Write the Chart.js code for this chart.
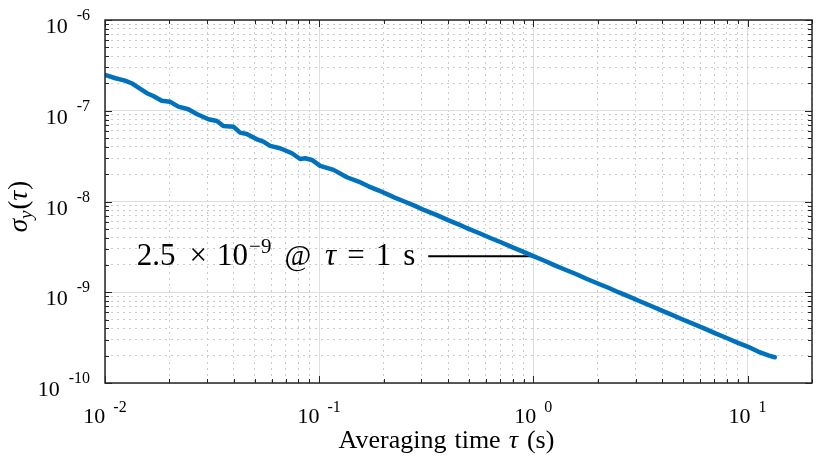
<!DOCTYPE html>
<html lang="en">
<head>
<meta charset="UTF-8">
<script src="https://cdn.jsdelivr.net/npm/chart.js"></script>
<title>Allan deviation</title>
<style>
  body { margin: 0; background: #fff; }
  canvas { display: block; }
</style>
</head>
<body>
<canvas id="adevChart" width="830" height="458"></canvas>
<script>
// averaging time (s) and Allan deviation
const tau = [0.0100, 0.0112, 0.0124, 0.0133, 0.0145, 0.0157, 0.0168, 0.0184, 0.0201, 0.0220,
             0.0245, 0.0268, 0.0304, 0.0333, 0.0357, 0.0398, 0.0427, 0.0459, 0.0512, 0.0549,
             0.0590, 0.0657, 0.0746, 0.0815, 0.0860, 0.0925, 0.1011, 0.1167, 0.1347, 0.1526,
             0.17, 0.19, 0.21, 0.23, 0.25, 0.28, 0.31, 0.35, 0.40, 0.45,
             0.49, 0.56, 0.63, 0.71, 0.80, 0.90, 1.00, 1.12, 1.26, 1.41,
             1.58, 1.78, 2.00, 2.24, 2.51, 2.82, 3.16, 3.55, 3.98, 4.47,
             5.01, 5.62, 6.31, 7.08, 7.94, 8.91, 10.0, 11.2, 12.6, 13.4]
const sigma = [2.48e-7, 2.28e-7, 2.15e-7, 2.01e-7, 1.76e-7, 1.56e-7, 1.455e-7, 1.29e-7, 1.26e-7, 1.11e-7,
               1.04e-7, 9.22e-8, 8.06e-8, 7.72e-8, 6.80e-8, 6.68e-8, 5.74e-8, 5.55e-8, 4.85e-8, 4.57e-8,
               4.10e-8, 3.86e-8, 3.40e-8, 2.94e-8, 3.00e-8, 2.87e-8, 2.47e-8, 2.23e-8, 1.85e-8, 1.66e-8,
               1.47e-8, 1.32e-8, 1.19e-8, 1.08e-8, 1.00e-8, 8.95e-9, 8.02e-9, 7.16e-9, 6.23e-9, 5.57e-9,
               5.08e-9, 4.47e-9, 3.96e-9, 3.53e-9, 3.12e-9, 2.78e-9, 2.50e-9, 2.24e-9, 1.98e-9, 1.77e-9,
               1.59e-9, 1.40e-9, 1.25e-9, 1.12e-9, 9.95e-10, 8.88e-10, 7.90e-10, 7.05e-10, 6.27e-10, 5.60e-10,
               4.98e-10, 4.45e-10, 3.97e-10, 3.52e-10, 3.15e-10, 2.80e-10, 2.52e-10, 2.22e-10, 2.00e-10, 1.92e-10]

// marker line at tau = 1 s
const markTau = [0.323, 1]
const markSigma = [2.5e-9, 2.5e-9]

// decade ticks
const xDecades = [0.01, 0.1, 1, 10]
const xExponents = ['-2', '-1', '0', '1']
const yDecades = [1e-10, 1e-9, 1e-8, 1e-7, 1e-6]
const yExponents = ['-10', '-9', '-8', '-7', '-6']

const serif = '"Liberation Serif", "DejaVu Serif", serif'

function logTicks(decades, max) {
    const out = []
    decades.forEach(d => {
        for (let k = 1; k <= 9; k++) {
            const v = +(d * k).toPrecision(6)
            if (v <= max * 1.0001) out.push(v)
        }
    })
    return out
}
const xTicks = logTicks(xDecades, 20)
const yTicks = logTicks(yDecades, 1e-6)

function isMajor(v) {
    const l = Math.log10(v)
    return Math.abs(l - Math.round(l)) < 1e-6
}

// draw a row of text pieces (superscripts, italics, extra gaps)
function setFont(ctx, r) {
    ctx.font = (r.italic ? 'italic ' : '') + r.size + 'px ' + serif
}
function runsWidth(ctx, runs) {
    let w = 0
    runs.forEach(r => {
        setFont(ctx, r)
        w += ctx.measureText(r.t).width + (r.gap || 0)
    })
    return w
}
function drawRuns(ctx, runs, x, y) {
    runs.forEach(r => {
        x += r.gap || 0
        setFont(ctx, r)
        ctx.fillText(r.t, x, y + (r.dy || 0))
        x += ctx.measureText(r.t).width
    })
}

const axesDecor = {
    id: 'axesDecor',
    afterDraw(chart) {
        const ctx = chart.ctx
        const a = chart.chartArea
        const xs = chart.scales.x, ys = chart.scales.y
        ctx.save()
        ctx.textBaseline = 'alphabetic'
        ctx.textAlign = 'left'
        ctx.fillStyle = '#000'

        // inward ticks on all four sides
        ctx.strokeStyle = '#262626'
        ctx.lineWidth = 1
        ctx.beginPath()
        xTicks.forEach(v => {
            const px = Math.round(xs.getPixelForValue(v)) + 0.5
            const len = isMajor(v) ? 7 : 4
            ctx.moveTo(px, a.bottom); ctx.lineTo(px, a.bottom - len)
            ctx.moveTo(px, a.top); ctx.lineTo(px, a.top + len)
        })
        yTicks.forEach(v => {
            const py = Math.round(ys.getPixelForValue(v)) + 0.5
            const len = isMajor(v) ? 7 : 4
            ctx.moveTo(a.left, py); ctx.lineTo(a.left + len, py)
            ctx.moveTo(a.right, py); ctx.lineTo(a.right - len, py)
        })
        ctx.stroke()

        // box
        ctx.lineWidth = 1.5
        ctx.strokeRect(a.left, a.top, a.right - a.left, a.bottom - a.top)

        // x tick labels
        xDecades.forEach((v, i) => {
            const runs = [{ t: '10', size: 22 }, { t: xExponents[i], size: 16, dy: -11, gap: 8 }]
            const w = runsWidth(ctx, runs)
            drawRuns(ctx, runs, xs.getPixelForValue(v) - w / 2, a.bottom + 40)
        })
        // y tick labels
        yDecades.forEach((v, i) => {
            const runs = [{ t: '10', size: 22 }, { t: yExponents[i], size: 16, dy: -13, gap: 9 }]
            const w = runsWidth(ctx, runs)
            drawRuns(ctx, runs, a.left - 15 - w, ys.getPixelForValue(v) + 13)
        })

        // x title
        const xt = [{ t: 'Averaging', size: 26 }, { t: 'time', size: 26, gap: 8 },
                    { t: 'τ', size: 26, italic: true, gap: 8 }, { t: '(s)', size: 26, gap: 9 }]
        drawRuns(ctx, xt, (a.left + a.right) / 2 - 12 - runsWidth(ctx, xt) / 2, a.bottom + 65)

        // y title, rotated
        const yt = [{ t: 'σ', size: 27, italic: true }, { t: 'y', size: 19, italic: true, dy: 5 },
                    { t: '(', size: 27, gap: 1 }, { t: 'τ', size: 27, italic: true }, { t: ')', size: 27, gap: 1 }]
        ctx.save()
        ctx.translate(27, (a.top + a.bottom) / 2 + 5)
        ctx.rotate(-Math.PI / 2)
        drawRuns(ctx, yt, -runsWidth(ctx, yt) / 2, 0)
        ctx.restore()

        // annotation next to the marker line
        const note = [{ t: '2.5', size: 31 }, { t: '×', size: 31, gap: 14 }, { t: '10', size: 31, gap: 10 },
                      { t: '\u22129', size: 21, dy: -12, gap: 1 }, { t: '@', size: 29, gap: 13 },
                      { t: 'τ', size: 31, italic: true, gap: 14 }, { t: '=', size: 31, gap: 11 },
                      { t: '1', size: 31, gap: 11 }, { t: 's', size: 31, gap: 12 }]
        const nx = xs.getPixelForValue(markTau[0]) - 13 - runsWidth(ctx, note)
        drawRuns(ctx, note, nx, ys.getPixelForValue(markSigma[0]) + 9)
        ctx.restore()
    }
}

const gridColor = c => (c.tick && isMajor(c.tick.value)) ? '#dedede' : '#cbcbcb'
const gridDash = c => (c.tick && isMajor(c.tick.value)) ? [] : [2, 4]

const adevChart = new Chart(document.getElementById('adevChart').getContext('2d'), {
    type: 'line',
    data: {
        datasets: [
            {
                data: tau.map((t, i) => ({ x: t, y: sigma[i] })),
                borderColor: '#0072BD',
                borderWidth: 4.5,
                pointRadius: 0,
                borderJoinStyle: 'round',
                borderCapStyle: 'round',
                tension: 0
            },
            {
                data: markTau.map((t, i) => ({ x: t, y: markSigma[i] })),
                borderColor: '#000',
                borderWidth: 2,
                pointRadius: 0
            }
        ]
    },
    options: {
        responsive: false,
        animation: false,
        layout: { padding: { top: 20, right: 18, left: 0, bottom: 0 } },
        plugins: { legend: { display: false }, tooltip: { enabled: false } },
        scales: {
            x: {
                type: 'logarithmic',
                min: 0.01,
                max: 20,
                afterBuildTicks: s => { s.ticks = xTicks.map(v => ({ value: v })) },
                afterFit: s => { s.height = 75 },
                ticks: { display: false },
                grid: { color: gridColor, lineWidth: 1, drawTicks: false },
                border: { display: false, dash: gridDash }
            },
            y: {
                type: 'logarithmic',
                min: 1e-10,
                max: 1e-6,
                afterBuildTicks: s => { s.ticks = yTicks.map(v => ({ value: v })) },
                afterFit: s => { s.width = 105 },
                ticks: { display: false },
                grid: { color: gridColor, lineWidth: 1, drawTicks: false },
                border: { display: false, dash: gridDash }
            }
        }
    },
    plugins: [axesDecor]
})
</script>
</body>
</html>
